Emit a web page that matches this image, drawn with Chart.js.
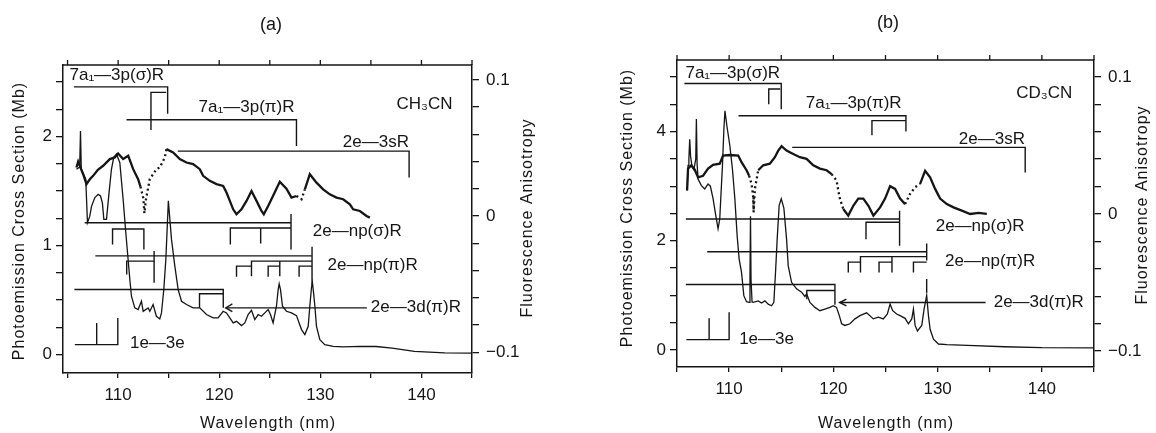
<!DOCTYPE html>
<html>
<head>
<meta charset="utf-8">
<script src="https://cdn.jsdelivr.net/npm/chart.js@4.4.0/dist/chart.umd.min.js"></script>
<style>
html, body { margin: 0; padding: 0; background: #fff; }
#wrap { position: relative; width: 1156px; height: 433px; overflow: hidden; }
canvas { position: absolute; top: 0; }
#cA { left: 0; }
#cB { left: 578px; }
</style>
</head>
<body>
<div id="wrap">
	<canvas id="cA" width="578" height="433"></canvas>
	<canvas id="cB" width="578" height="433"></canvas>
</div>
<script>
'use strict';

// ---- Panel (a) CH3CN: [wavelength nm, value] ----
const crossA = [[105.88,1.70],[106.2,1.72],[106.28,2.05],[106.36,1.70],[106.8,1.61],[106.97,1.21],[107.2,1.27],[107.37,1.36],[107.7,1.44],[108.03,1.47],[108.26,1.455],[108.45,1.39],[108.59,1.24],[108.85,1.24],[109.11,1.49],[109.34,1.70],[109.57,1.81],[109.84,1.84],[110.17,1.76],[110.5,1.42],[110.76,1.12],[110.99,0.873],[111.16,0.689],[111.32,0.536],[111.65,0.429],[111.98,0.414],[112.31,0.49],[112.48,0.398],[112.97,0.429],[113.14,0.398],[113.46,0.46],[113.79,0.352],[114.12,0.328],[114.29,0.383],[114.52,0.597],[114.72,0.873],[114.97,1.41],[115.28,1.057],[115.61,0.812],[115.94,0.597],[116.27,0.49],[116.76,0.46],[117.42,0.429],[118.08,0.429],[118.74,0.368],[119.4,0.337],[119.89,0.337],[120.39,0.398],[120.72,0.383],[121.05,0.337],[121.38,0.291],[121.71,0.306],[122.2,0.267],[122.53,0.291],[122.86,0.368],[123.19,0.407],[123.52,0.322],[123.85,0.368],[124.18,0.352],[124.51,0.383],[124.84,0.414],[125.07,0.368],[125.33,0.291],[125.66,0.444],[125.83,0.597],[125.93,0.65],[126.06,0.597],[126.26,0.444],[126.65,0.398],[127.15,0.383],[127.64,0.358],[128.14,0.23],[128.47,0.184],[128.8,0.26],[128.96,0.444],[129.13,0.62],[129.22,0.66],[129.35,0.55],[129.46,0.444],[129.62,0.26],[129.95,0.138],[130.44,0.092],[131.27,0.077],[132.26,0.071],[133.9,0.077],[135.5,0.075],[137.1,0.06],[139.3,0.03],[142.3,0.017],[145,0.015]];

const anisoA = [[105.88,0.0356],[106.05,0.040],[106.21,0.0369],[106.54,0.0307],[106.87,0.0234],[107.2,0.027],[107.53,0.0295],[108.0,0.034],[108.52,0.0369],[109.18,0.0418],[109.67,0.043],[110.0,0.0459],[110.5,0.0418],[111.0,0.0442],[111.49,0.0344],[111.98,0.027],[112.21,0.0216],[112.5,0.013],[112.6,0.002],[112.75,0.012],[113.13,0.027],[113.79,0.0344],[114.12,0.0356],[114.62,0.043],[114.78,0.0491],[115.44,0.0467],[116.1,0.0418],[116.76,0.0393],[117.42,0.0381],[118.08,0.0344],[118.41,0.0295],[119.07,0.0258],[119.73,0.0234],[120.39,0.0221],[120.72,0.0172],[121.05,0.0111],[121.38,0.0049],[121.71,0.0013],[122.2,0.0049],[122.7,0.0111],[123.19,0.0184],[123.69,0.0111],[124.18,0.0037],[124.41,0.0013],[124.84,0.0074],[125.33,0.0148],[125.99,0.0251],[126.65,0.0200],[127.15,0.0135],[127.64,0.0147],[128.14,0.0123],[128.47,0.0196],[128.96,0.0307],[129.62,0.0245],[130.28,0.0196],[130.94,0.0159],[131.6,0.0135],[132.26,0.0123],[132.92,0.0086],[133.25,0.0049],[133.91,0.0037],[134.57,0.0],[134.9,-0.0012]];
const dottedA = [[112.2,114.8],[127.3,128.5]];

// assignment brackets (a), in Mb
const bracketsA = [
	[[105.63,2.455],[114.9,2.455],[114.9,2.21]],
	[[113.25,2.06],[113.25,2.405],[114.75,2.405]],
	[[110.83,2.154],[127.64,2.154],[127.64,1.914]],
	[[115.9,1.866],[138.78,1.866],[138.78,1.624]],
	[[106.7,1.21],[127.1,1.21]],
	[[127.1,1.29],[127.1,0.965]],
	[[109.45,1.01],[109.45,1.152],[112.55,1.152],[112.55,0.965]],
	[[121.1,1.01],[121.1,1.162],[127.1,1.162]],
	[[124.1,1.162],[124.1,1.02]],
	[[107.75,0.906],[129.18,0.906]],
	[[129.18,0.99],[129.18,0.64]],
	[[110.85,0.735],[110.85,0.858],[113.56,0.858]],
	[[113.56,0.95],[113.56,0.66]],
	[[123.19,0.72],[123.19,0.858],[129.18,0.858]],
	[[125.99,0.858],[125.99,0.72]],
	[[121.71,0.714],[121.71,0.812],[123.19,0.812]],
	[[124.84,0.714],[124.84,0.812],[125.99,0.812]],
	[[127.9,0.714],[127.9,0.812],[129.18,0.812]],
	[[105.68,0.597],[120.4,0.597],[120.4,0.43]],
	[[118.05,0.43],[118.05,0.558],[120.4,0.558]],
	[[120.65,0.429],[134.6,0.429]],
	[[121.3,0.465],[120.65,0.429],[121.3,0.395]],
	[[105.72,0.092],[109.97,0.092],[109.97,0.337]],
	[[107.88,0.092],[107.88,0.29]]
];
const labelsA = [
	['7a\u2081\u20143p(\u03c3)R', 109.87, 2.56],
	['7a\u2081\u20143p(\u03c0)R', 122.7, 2.27],
	['2e\u20143sR', 135.5, 1.95],
	['CH\u2083CN', 140.3, 2.30],
	['2e\u2014np(\u03c3)R', 133.65, 1.13],
	['2e\u2014np(\u03c0)R', 135.17, 0.815],
	['2e\u20143d(\u03c0)R', 139.45, 0.43],
	['1e\u20143e', 113.88, 0.10]
];

// ---- Panel (b) CD3CN ----
const crossB = [[105.97,2.92],[106.06,3.38],[106.14,3.5],[106.22,3.86],[106.3,3.55],[106.45,3.35],[106.62,3.3],[106.8,3.5],[106.86,4.23],[106.93,3.4],[107.02,3.13],[107.34,3.01],[107.66,2.95],[107.98,3.04],[108.2,3.0],[108.46,2.77],[108.72,2.46],[108.94,2.22],[109.1,2.4],[109.36,3.38],[109.5,4.05],[109.6,4.38],[109.78,4.11],[110.07,3.74],[110.32,3.31],[110.55,2.77],[110.77,2.09],[110.96,1.67],[111.19,1.42],[111.41,0.995],[111.67,0.885],[111.92,0.873],[112.0,1.3],[112.05,2.45],[112.1,1.3],[112.2,0.88],[112.31,0.873],[112.79,0.9],[113.11,0.86],[113.43,0.9],[113.75,0.84],[114.07,0.81],[114.29,0.873],[114.45,1.42],[114.61,2.03],[114.8,2.65],[115.0,2.77],[115.25,2.6],[115.51,2.03],[115.67,1.54],[115.99,1.24],[116.47,1.12],[116.95,1.06],[117.27,0.98],[117.43,1.03],[117.75,0.87],[118.23,0.78],[118.71,0.72],[119.19,0.75],[119.67,0.78],[119.99,0.81],[120.3,0.78],[120.57,0.63],[120.79,0.48],[121.11,0.45],[121.59,0.48],[122.07,0.57],[122.55,0.63],[123.19,0.68],[123.83,0.57],[124.31,0.60],[124.79,0.57],[125.18,0.66],[125.44,0.84],[125.69,0.72],[126.07,0.66],[126.4,0.63],[126.88,0.58],[127.2,0.48],[127.52,0.57],[127.68,0.75],[127.84,0.45],[128.06,0.35],[128.48,0.45],[128.7,0.75],[128.95,1.0],[129.12,0.63],[129.28,0.38],[129.6,0.2],[130.08,0.11],[130.9,0.1],[132.86,0.085],[136.4,0.06],[140,0.042],[145,0.04]];

const anisoB = [[105.97,0.0171],[106.06,0.0331],[106.38,0.0355],[106.7,0.0323],[107.02,0.0267],[107.5,0.0279],[107.98,0.0331],[108.46,0.0359],[109.1,0.0367],[109.42,0.0426],[110.07,0.043],[110.87,0.0426],[111.19,0.0378],[111.67,0.0319],[111.92,0.0279],[112.15,0.0219],[112.3,0.0135],[112.35,0.0012],[112.47,0.0183],[112.79,0.0319],[113.27,0.0355],[113.91,0.0367],[114.39,0.0414],[114.71,0.0462],[115.03,0.0494],[115.51,0.0462],[116.15,0.0438],[116.79,0.0414],[117.43,0.0402],[118.07,0.0355],[118.71,0.0331],[119.35,0.0319],[119.83,0.0291],[120.31,0.0243],[120.47,0.0171],[120.63,0.0112],[120.95,0.0036],[121.43,-0.0012],[121.91,0.006],[122.39,0.0112],[122.87,0.0112],[123.36,0.006],[123.84,-0.0012],[124.48,0.0048],[124.96,0.0112],[125.44,0.0203],[125.92,0.0183],[126.4,0.0112],[126.88,0.0072],[127.36,0.0147],[127.84,0.0195],[128.32,0.0219],[128.8,0.0315],[129.28,0.0267],[129.76,0.0183],[130.24,0.0112],[130.88,0.0072],[131.52,0.0048],[132.32,0.0024],[133.12,0.0],[133.92,0.0008],[134.72,0.0]];
const dottedB = [[111.9,112.8],[119.8,121.4],[126.85,128.35]];

const bracketsB = [
	[[105.71,4.88],[115.0,4.88],[115.0,4.41]],
	[[113.8,4.5],[113.8,4.78],[114.9,4.78]],
	[[110.9,4.29],[126.96,4.29],[126.96,4.0]],
	[[123.7,3.93],[123.7,4.2],[126.96,4.2]],
	[[116.05,3.71],[138.4,3.71],[138.4,3.25]],
	[[105.85,2.40],[126.35,2.40]],
	[[126.35,2.55],[126.35,1.91]],
	[[123.13,2.03],[123.13,2.34],[126.35,2.34]],
	[[107.9,1.80],[128.95,1.80]],
	[[128.95,1.95],[128.95,1.64]],
	[[128.95,1.3],[128.95,1.05]],
	[[122.6,1.42],[122.6,1.71],[128.95,1.71]],
	[[125.62,1.71],[125.62,1.42]],
	[[121.43,1.42],[121.43,1.61],[122.6,1.61]],
	[[124.38,1.42],[124.38,1.61],[125.62,1.61]],
	[[127.68,1.42],[127.68,1.61],[128.95,1.61]],
	[[105.85,1.2],[120.15,1.2],[120.15,0.83]],
	[[117.45,0.93],[117.45,1.09],[120.15,1.09]],
	[[120.6,0.87],[134.6,0.87]],
	[[121.25,0.93],[120.6,0.87],[121.25,0.81]],
	[[105.9,0.19],[110.0,0.19],[110.0,0.69]],
	[[108.08,0.19],[108.08,0.58]]
];
const labelsB = [
	['7a\u2081\u20143p(\u03c3)R', 110.35, 5.07],
	['7a\u2081\u20143p(\u03c0)R', 121.95, 4.52],
	['2e\u20143sR', 135.2, 3.85],
	['CD\u2083CN', 140.23, 4.70],
	['2e\u2014np(\u03c3)R', 134.08, 2.265],
	['2e\u2014np(\u03c0)R', 135.04, 1.63],
	['2e\u20143d(\u03c0)R', 139.7, 0.87],
	['1e\u20143e', 113.59, 0.2]
];

const INK = '#151515';
const FONT = '"Liberation Sans", Arial, sans-serif';

function pts(arr) {
	return arr.map(function(p){ return {x: p[0], y: p[1]}; });
}

function inRanges(ranges, a, b) {
	return ranges.some(function(r){ return a >= r[0] && b <= r[1]; });
}

function isMultiple(v, step) {
	const q = v / step;
	return Math.abs(q - Math.round(q)) < 1e-6;
}

function fmtRight(v) {
	if (Math.abs(v) < 1e-9) return '0';
	return (v < 0 ? '\u2212' : '') + Math.abs(v).toFixed(1);
}

// draws the top frame, texts and titles
const decor = {
	id: 'decor',
	afterDraw: function(chart) {
		const ctx = chart.ctx;
		const a = chart.chartArea;
		const p = chart.options.plugins.decor;
		const xs = chart.scales.x, ys = chart.scales.y;
		ctx.save();
		ctx.strokeStyle = INK;
		ctx.fillStyle = INK;
		ctx.lineWidth = 1.5;
		ctx.beginPath();
		ctx.moveTo(a.left, a.top);
		ctx.lineTo(a.right, a.top);
		ctx.stroke();
		ctx.lineWidth = 1.3;
		xs.ticks.forEach(function(t){
			const px = xs.getPixelForValue(t.value);
			ctx.beginPath();
			ctx.moveTo(px, a.top);
			ctx.lineTo(px, a.top - 5);
			ctx.stroke();
		});

		ctx.textAlign = 'center';
		ctx.textBaseline = 'middle';
		ctx.font = '17px ' + FONT;
		p.labels.forEach(function(l){
			ctx.fillText(l[0], xs.getPixelForValue(l[1]), ys.getPixelForValue(l[2]));
		});

		ctx.font = '18px ' + FONT;
		ctx.fillText(p.panel, p.panelPos[0], p.panelPos[1]);

		ctx.font = '16px ' + FONT;
		ctx.letterSpacing = '1px';
		ctx.fillText('Wavelength (nm)', p.xTitle[0], p.xTitle[1]);
		[p.yTitle, p.y2Title].forEach(function(t, i){
			ctx.save();
			ctx.translate(t[0], t[1]);
			ctx.rotate(-Math.PI / 2);
			ctx.fillText(i === 0 ? 'Photoemission Cross Section (Mb)' : 'Fluorescence Anisotropy', 0, 0);
			ctx.restore();
		});
		ctx.restore();
	}
};

function makeChart(id, p) {
	const datasets = [];
	datasets.push({ data: pts(p.cross), borderColor: INK, borderWidth: 1.3, yAxisID: 'y' });
	datasets.push({
		data: pts(p.aniso), borderColor: INK, borderWidth: 2.3, yAxisID: 'y2',
		segment: {
			borderDash: function(c){ return inRanges(p.dotted, c.p0.parsed.x, c.p1.parsed.x) ? [2, 3] : undefined; }
		}
	});
	p.brackets.forEach(function(b){
		datasets.push({ data: pts(b), borderColor: INK, borderWidth: 1.4, yAxisID: 'y' });
	});

	const tickFont = { family: FONT, size: 17 };
	const gridStyle = function(len) {
		return { drawOnChartArea: false, drawTicks: true, tickLength: len, color: INK, lineWidth: 1.3 };
	};
	const border = { display: true, color: INK, width: 1.5 };

	return new Chart(document.getElementById(id), {
		type: 'line',
		data: { datasets: datasets },
		plugins: [decor],
		options: {
			responsive: false,
			animation: false,
			devicePixelRatio: 1,
			parsing: true,
			layout: { padding: { top: p.area.top, left: 0, right: 0, bottom: 0 } },
			elements: {
				point: { radius: 0, hoverRadius: 0 },
				line: { tension: 0, fill: false, borderCapStyle: 'butt' }
			},
			plugins: {
				legend: { display: false },
				tooltip: { enabled: false },
				decor: p
			},
			scales: {
				x: {
					type: 'linear', position: 'bottom', min: p.xMin, max: 145,
					grid: gridStyle(5), border: border,
					ticks: {
						stepSize: 5, includeBounds: false, autoSkip: false, maxRotation: 0,
						font: tickFont, color: INK, padding: 7,
						callback: function(v){ return isMultiple(v, 10) ? String(Math.round(v)) : ''; }
					},
					afterFit: function(s){ s.height = 433 - p.area.bottom; }
				},
				y: {
					type: 'linear', position: 'left', min: p.yMin, max: p.yMax,
					grid: gridStyle(7), border: border,
					ticks: {
						stepSize: p.yStep, includeBounds: false, autoSkip: false,
						font: tickFont, color: INK, padding: 4,
						callback: function(v){ return isMultiple(v, p.yMajor) ? String(Math.round(v)) : ''; }
					},
					afterFit: function(s){ s.width = p.area.left; }
				},
				y2: {
					type: 'linear', position: 'right', min: p.y2Min, max: p.y2Max,
					grid: gridStyle(7), border: border,
					ticks: {
						stepSize: 0.02, includeBounds: false, autoSkip: false,
						font: tickFont, color: INK, padding: 7,
						callback: function(v){ return isMultiple(v, 0.1) ? fmtRight(v) : ''; }
					},
					afterFit: function(s){ s.width = 578 - p.area.right; }
				}
			}
		}
	});
}

makeChart('cA', {
	cross: crossA, aniso: anisoA, dotted: dottedA, brackets: bracketsA, labels: labelsA,
	area: { left: 63, right: 472, top: 65, bottom: 373 },
	xMin: 104.55, yMin: -0.168, yMax: 2.656, yStep: 0.25, yMajor: 1,
	y2Min: -0.1153, y2Max: 0.1109,
	panel: '(a)', panelPos: [271, 25],
	xTitle: [268, 424], yTitle: [20, 221], y2Title: [528, 218]
});

makeChart('cB', {
	cross: crossB, aniso: anisoB, dotted: dottedB, brackets: bracketsB, labels: labelsB,
	area: { left: 99, right: 516, top: 60, bottom: 367 },
	xMin: 105, yMin: -0.311, yMax: 5.31, yStep: 0.5, yMajor: 2,
	y2Min: -0.1116, y2Max: 0.1123,
	panel: '(b)', panelPos: [310, 23],
	xTitle: [308, 424], yTitle: [50, 208], y2Title: [565, 205]
});
</script>
</body>
</html>
